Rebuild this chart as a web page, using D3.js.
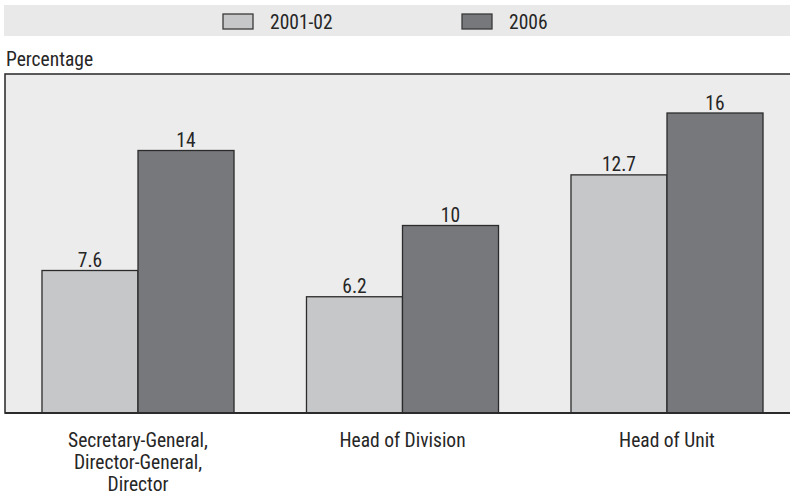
<!DOCTYPE html>
<html><head><meta charset="utf-8">
<script src="https://cdn.jsdelivr.net/npm/d3@7"></script>
<style>
html,body{margin:0;padding:0;background:#fff;}
svg text{font-family:"Roboto Condensed","Liberation Sans Narrow","Arial Narrow",sans-serif;font-weight:400;fill:#262626;}
</style></head>
<body>
<svg id="chart" width="790" height="495"></svg>
<script>
const categories = [["Secretary-General,","Director-General,","Director"],["Head of Division"],["Head of Unit"]];
const categoryKeys = ["sg","hd","hu"];
const seriesNames = ["2001-02","2006"];
const values2001 = [7.6, 6.2, 12.7];
const values2006 = [14, 10, 16];
const labels2001 = ["7.6","6.2","12.7"];
const labels2006 = ["14","10","16"];
const colors = ["#c6c7c9","#77787c"];

const svg = d3.select("#chart");
const W = 790, H = 495;
const yBase = 413, yTop = 75.5;
const FS = 19.5;

// legend band
svg.append("rect").attr("x",4).attr("y",5).attr("width",W-4).attr("height",31).attr("fill","#e9e9ea");
const legX = [223, 462];
seriesNames.forEach((s,i)=>{
  svg.append("rect").attr("x",legX[i]).attr("y",14).attr("width",30).attr("height",15)
    .attr("fill",colors[i]).attr("stroke","#3a3a3a").attr("stroke-width",1.3);
  svg.append("text").attr("x",legX[i]+47).attr("y",28.5).attr("font-size",FS).text(s);
});

svg.append("text").attr("x",6).attr("y",66).attr("font-size",FS).text("Percentage");

// plot area
svg.append("rect").attr("x",5).attr("y",74).attr("width",W+10).attr("height",yBase-74)
  .attr("fill","#ececec").attr("stroke","#333").attr("stroke-width",1.6);

const x0 = d3.scaleBand().domain(categoryKeys).range([5.75, 799.25]).paddingInner(0.274).paddingOuter(0.137);
const x1 = d3.scaleBand().domain(seriesNames).range([0, x0.bandwidth()]);
const y = d3.scaleLinear().domain([0,18]).range([yBase, yTop]);

const data = categoryKeys.map((k,i)=>({key:k, vals:[
  {s:seriesNames[0], v:values2001[i], l:labels2001[i]},
  {s:seriesNames[1], v:values2006[i], l:labels2006[i]}]}));

const g = svg.selectAll("g.grp").data(data).join("g").attr("class","grp")
  .attr("transform",d=>`translate(${x0(d.key)},0)`);
g.selectAll("rect").data(d=>d.vals).join("rect")
  .attr("x",d=>x1(d.s)).attr("width",x1.bandwidth())
  .attr("y",d=>y(d.v)).attr("height",d=>yBase-y(d.v))
  .attr("fill",(d,i)=>colors[i]).attr("stroke","#2b2b2b").attr("stroke-width",1.3);
g.selectAll("text.val").data(d=>d.vals).join("text").attr("class","val")
  .attr("x",d=>x1(d.s)+x1.bandwidth()/2).attr("y",d=>y(d.v)-3.5)
  .attr("text-anchor","middle").attr("font-size",FS).text(d=>d.l);

// baseline
svg.append("line").attr("x1",5).attr("x2",W).attr("y1",yBase).attr("y2",yBase).attr("stroke","#2b2b2b").attr("stroke-width",2);

// category labels
categoryKeys.forEach((k,i)=>{
  const cx = x0(k)+x0.bandwidth()/2;
  const t = svg.append("text").attr("text-anchor","middle").attr("font-size",FS)
    .attr("x",cx).attr("y",447);
  categories[i].forEach((line,j)=>{
    t.append("tspan").attr("x",cx).attr("dy",j===0?0:22).text(line);
  });
});
</script>
</body></html>
